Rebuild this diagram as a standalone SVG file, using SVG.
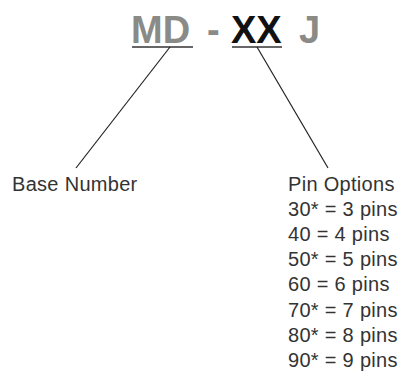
<svg xmlns="http://www.w3.org/2000/svg" width="403" height="373" viewBox="0 0 403 373">
<style>
.title{font-family:"Liberation Sans",Arial,sans-serif;font-weight:bold;font-size:38px}
.gray{fill:#8a8a87}
.dark{fill:#111}
.lbl{font-family:"Liberation Sans",Arial,sans-serif;font-size:20px;fill:#333;letter-spacing:0.3px}
.ln{stroke:#222;stroke-width:1.2;fill:none}
.ul{stroke:#333;stroke-width:1.6;fill:none}
</style>
<rect width="403" height="373" fill="#fff"/>
<g id="title">
<text class="title gray" x="131" y="43">MD</text>
<text class="title gray" x="207" y="43">-</text>
<text class="title dark" x="231" y="43">XX</text>
<text class="title gray" x="299" y="43">J</text>
<line class="ul" x1="132" y1="47" x2="193" y2="47"/>
<line class="ul" x1="232" y1="47" x2="282" y2="47"/>
</g>
<g id="connectors">
<line class="ln" x1="170" y1="47" x2="76" y2="168"/>
<line class="ln" x1="257" y1="47" x2="328" y2="168"/>
</g>
<g id="base-number">
<text class="lbl" x="12" y="191">Base Number</text>
</g>
<g id="pin-options">
<text class="lbl" x="288" y="191">Pin Options</text>
<text class="lbl" x="288" y="216">30* = 3 pins</text>
<text class="lbl" x="288" y="241">40 = 4 pins</text>
<text class="lbl" x="288" y="266">50* = 5 pins</text>
<text class="lbl" x="288" y="291">60 = 6 pins</text>
<text class="lbl" x="288" y="317">70* = 7 pins</text>
<text class="lbl" x="288" y="342">80* = 8 pins</text>
<text class="lbl" x="288" y="367">90* = 9 pins</text>
</g>
</svg>
